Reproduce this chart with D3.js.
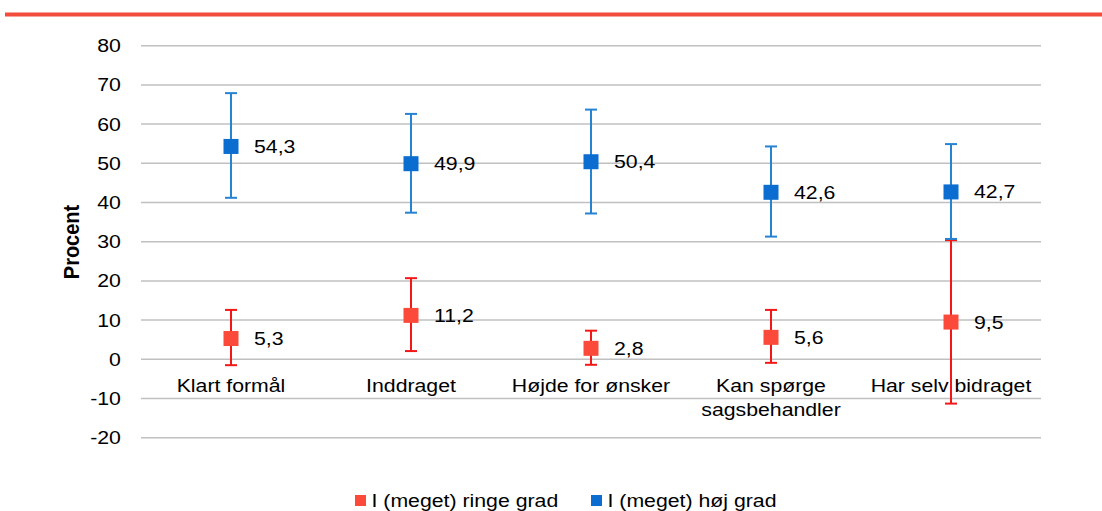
<!DOCTYPE html>
<html>
<head>
<meta charset="utf-8">
<script src="https://cdn.jsdelivr.net/npm/d3@7"></script>
<style>
  body { margin: 0; background: #fff; }
  svg { display: block; font-family: "Liberation Sans", Arial, sans-serif; }
</style>
</head>
<body>
<script>
// categories and values
var categories = ["Klart formål", "Inddraget", "Højde for ønsker", "Kan spørge sagsbehandler", "Har selv bidraget"];
var lowValues  = [5.3, 11.2, 2.8, 5.6, 9.5];
var lowUpper   = [12.6, 20.7, 7.3, 12.6, 30.4];
var lowLower   = [-1.5, 2.1, -1.4, -0.9, -11.3];
var highValues = [54.3, 49.9, 50.4, 42.6, 42.7];
var highUpper  = [67.9, 62.6, 63.7, 54.3, 54.9];
var highLower  = [41.2, 37.4, 37.2, 31.3, 30.7];
var yTicks     = [-20, -10, 0, 10, 20, 30, 40, 50, 60, 70, 80];
var seriesNames = ["I (meget) ringe grad", "I (meget) høj grad"];

var width = 1102, height = 511;
var fontSize = 18.5;
var stretch = 1.15;   // the original text is a bit wide

var svg = d3.select("body").append("svg")
  .attr("width", width)
  .attr("height", height);

// text drawn at (x,y), widened around its anchor point
function label(parent, x, y, anchor, str) {
  return parent.append("text")
    .attr("transform", "translate(" + x + "," + y + ") scale(" + stretch + ",1)")
    .attr("text-anchor", anchor)
    .attr("font-size", fontSize)
    .attr("fill", "#000")
    .text(str);
}

// red rule along the top
svg.append("line")
  .attr("x1", 5).attr("x2", width)
  .attr("y1", 14.5).attr("y2", 14.5)
  .attr("stroke", "#f24c3d")
  .attr("stroke-width", 4);

var x = d3.scaleBand()
  .domain(categories)
  .range([141, 1041]);

var y = d3.scaleLinear()
  .domain([-20, 80])
  .range([437.7, 45.7]);

var fmt = d3.formatLocale({decimal: ",", thousands: ".", grouping: [3], currency: ["", " kr"]}).format(".1f");

// gridlines
svg.append("g")
  .selectAll("line")
  .data(yTicks)
  .enter()
    .append("line")
    .attr("x1", 141).attr("x2", 1041)
    .attr("y1", function(d) { return y(d); })
    .attr("y2", function(d) { return y(d); })
    .attr("stroke", "#c0c0c0")
    .attr("stroke-width", 1.5);

// y axis labels
var yAxis = svg.append("g")
  .attr("transform", "translate(141,0)")
  .call(d3.axisLeft(y).tickValues(yTicks).tickSize(0).tickPadding(17.5)
    .tickFormat(function(d) { return String(d); }));
yAxis.select(".domain").remove();
yAxis.selectAll("text")
  .attr("font-family", "Liberation Sans, Arial, sans-serif")
  .attr("font-size", fontSize)
  .attr("fill", "#000")
  .attr("transform", "scale(" + stretch + ",1)");

svg.append("text")
  .attr("transform", "translate(79,242) rotate(-90) scale(1,1.12)")
  .attr("text-anchor", "middle")
  .attr("font-size", 20)
  .attr("font-weight", "bold")
  .text("Procent");

// category labels (wrap the long one)
var catG = svg.append("g");
categories.forEach(function(c) {
  var lines = c === "Kan spørge sagsbehandler" ? ["Kan spørge", "sagsbehandler"] : [c];
  lines.forEach(function(l, i) {
    label(catG, x(c) + x.bandwidth() / 2, 392 + i * 24, "middle", l);
  });
});

var series = [
  {values: lowValues, upper: lowUpper, lower: lowLower, marker: "#fb4a3a", bar: "#f21818"},
  {values: highValues, upper: highUpper, lower: highLower, marker: "#0a6dcf", bar: "#2683d3"}
];

series.forEach(function(s) {
  var g = svg.append("g");
  var cx = function(d, i) { return x(categories[i]) + x.bandwidth() / 2; };

  g.selectAll(".err")
    .data(s.values)
    .enter()
      .append("line")
      .attr("x1", cx).attr("x2", cx)
      .attr("y1", function(d, i) { return y(s.upper[i]); })
      .attr("y2", function(d, i) { return y(s.lower[i]); })
      .attr("stroke", s.bar)
      .attr("stroke-width", 2);

  ["upper", "lower"].forEach(function(k) {
    g.selectAll(".cap-" + k)
      .data(s[k])
      .enter()
        .append("line")
        .attr("x1", function(d, i) { return cx(d, i) - 6; })
        .attr("x2", function(d, i) { return cx(d, i) + 6; })
        .attr("y1", function(d) { return y(d); })
        .attr("y2", function(d) { return y(d); })
        .attr("stroke", s.bar)
        .attr("stroke-width", 2);
  });

  g.selectAll("rect")
    .data(s.values)
    .enter()
      .append("rect")
      .attr("x", function(d, i) { return cx(d, i) - 7.5; })
      .attr("y", function(d) { return y(d) - 7.5; })
      .attr("width", 15)
      .attr("height", 15)
      .attr("fill", s.marker);

  s.values.forEach(function(d, i) {
    label(g, cx(d, i) + 23, y(d), "start", fmt(d)).attr("dy", "0.35em");
  });
});

// legend
var legendX = [355, 591];
var legend = svg.append("g");
seriesNames.forEach(function(name, i) {
  legend.append("rect")
    .attr("x", legendX[i]).attr("y", 495)
    .attr("width", 11).attr("height", 11)
    .attr("fill", series[i].marker);
  label(legend, legendX[i] + 16.5, 507, "start", name);
});
</script>
</body>
</html>
